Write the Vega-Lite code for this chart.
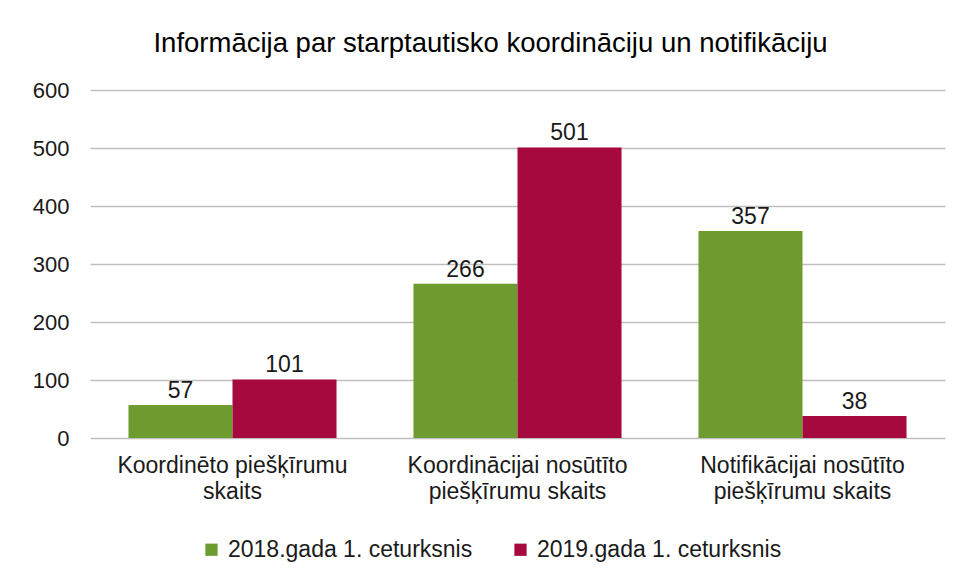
{
  "$schema": "https://vega.github.io/schema/vega-lite/v6.json",
  "width": 855,
  "height": 348,
  "autosize": "none",
  "padding": {"left": 90, "top": 90, "right": 16, "bottom": 142},
  "background": "white",
  "config": {
    "font": "Liberation Sans",
    "view": {"stroke": null}
  },
  "title": {
    "text": "Informācija par starptautisko koordināciju un notifikāciju",
    "fontSize": 27.5,
    "fontWeight": "normal",
    "color": "#000000",
    "anchor": "middle",
    "dx": -27,
    "offset": 22,
    "font": "Liberation Sans"
  },
  "data": {
    "values": [
      {"category": "Koordinēto piešķīrumu skaits", "series": "2018.gada 1. ceturksnis", "value": 57},
      {"category": "Koordinēto piešķīrumu skaits", "series": "2019.gada 1. ceturksnis", "value": 101},
      {"category": "Koordinācijai nosūtīto piešķīrumu skaits", "series": "2018.gada 1. ceturksnis", "value": 266},
      {"category": "Koordinācijai nosūtīto piešķīrumu skaits", "series": "2019.gada 1. ceturksnis", "value": 501},
      {"category": "Notifikācijai nosūtīto piešķīrumu skaits", "series": "2018.gada 1. ceturksnis", "value": 357},
      {"category": "Notifikācijai nosūtīto piešķīrumu skaits", "series": "2019.gada 1. ceturksnis", "value": 38}
    ]
  },
  "encoding": {
    "x": {
      "field": "category",
      "type": "nominal",
      "sort": null,
      "scale": {"paddingInner": 0.27, "paddingOuter": 0.135},
      "axis": {
        "title": null,
        "labelAngle": 0,
        "labelFontSize": 23,
        "labelColor": "#1a1a1a",
        "labelPadding": 16,
        "labelLineHeight": 26,
        "labelBaseline": "top",
        "labelLimit": 400,
        "ticks": false,
        "domain": false,
        "labelExpr": "datum.value == 'Koordinēto piešķīrumu skaits' ? ['Koordinēto piešķīrumu', 'skaits'] : [replace(datum.value, ' piešķīrumu skaits', ''), 'piešķīrumu skaits']"
      }
    },
    "xOffset": {"field": "series", "type": "nominal", "scale": {"paddingInner": 0, "paddingOuter": 0}},
    "y": {
      "field": "value",
      "type": "quantitative",
      "scale": {"domain": [0, 600]},
      "axis": {
        "title": null,
        "values": [0, 100, 200, 300, 400, 500, 600],
        "labelFontSize": 22,
        "labelColor": "#1a1a1a",
        "labelPadding": 21,
        "ticks": false,
        "domain": false,
        "gridColor": "#BFBFBF",
        "gridWidth": 1.3
      }
    }
  },
  "layer": [
    {
      "mark": {"type": "bar"},
      "encoding": {
        "color": {
          "field": "series",
          "type": "nominal",
          "scale": {"range": ["#6E9B2F", "#A5093E"]},
          "legend": {
            "title": null,
            "orient": "none",
            "direction": "horizontal",
            "legendX": 110,
            "legendY": 448,
            "symbolType": "square",
            "symbolSize": 150,
            "labelFontSize": 23,
            "labelColor": "#1a1a1a",
            "labelLimit": 400,
            "columnPadding": 36,
            "labelOffset": 5
          }
        }
      }
    },
    {
      "mark": {"type": "text", "baseline": "bottom", "dy": -2, "fontSize": 23, "color": "#1a1a1a"},
      "encoding": {"text": {"field": "value", "type": "quantitative"}}
    }
  ]
}
